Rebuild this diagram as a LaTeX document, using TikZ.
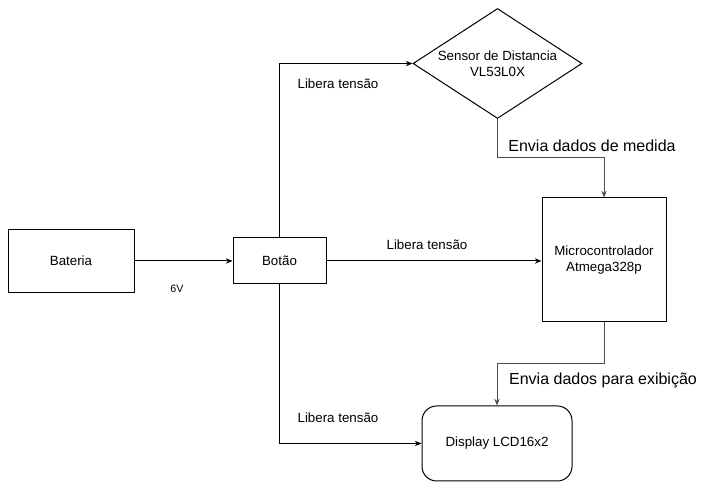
\documentclass[tikz,border=0pt]{standalone}
\usepackage{fontspec}
\setmainfont{Liberation Sans}
\usetikzlibrary{shapes.geometric,arrows.meta}
\begin{document}
\begin{tikzpicture}[x=0.75pt,y=-0.75pt,
  box/.style={draw=black,line width=0.75pt,rectangle,inner sep=0pt,font=\fontsize{10}{12}\selectfont,align=center},
  arr/.style={draw=black,line width=0.75pt,-{Stealth[length=5pt,width=4pt]}},
  arrg/.style={draw=black!70,line width=0.75pt,-{Stealth[length=5pt,width=4pt]}},
  lbl/.style={inner sep=0pt,font=\fontsize{10}{12}\selectfont},
  biglbl/.style={inner sep=0pt,font=\fontsize{12}{14}\selectfont}]
\useasboundingbox[fill=white] (0,0) rectangle (707,498);
% nodes
\node[box,minimum width=94.5pt,minimum height=47.25pt] (bat) at (71,261) {Bateria};
\node[box,minimum width=69.75pt,minimum height=34.5pt] (bot) at (279.5,261) {Botão};
\node[diamond,draw=black,line width=0.75pt,inner sep=0pt,minimum width=126.75pt,minimum height=82.5pt,
  label={[align=center,font=\fontsize{10}{12}\selectfont]center:Sensor de Distancia\\VL53L0X}] (sens) at (497.5,63.5) {};
\node[box,minimum width=93pt,minimum height=93pt] (mic) at (604,260) {Microcontrolador\\Atmega328p};
\node[box,rounded corners=11pt,minimum width=112.5pt,minimum height=56.25pt] (disp) at (497,443.5) {Display LCD16x2};
% bend points
\coordinate (k1) at (604,158);
\coordinate (k2) at (497,364);
% connectors
\draw[arr] (bat.east) -- (bot.west);
\draw[arr] (bot.north) |- (sens.west);
\draw[arrg] (sens.south) |- (k1) -- (mic.north);
\draw[arr] (bot.east) -- (mic.west |- bot.east);
\draw[arrg] (mic.south) |- (k2) -- (disp.north);
\draw[arr] (bot.south) |- (disp.west);
% labels
\node[lbl,font=\fontsize{8}{10}\selectfont] (l6v) at (177,289) {6V};
\node[lbl] (lt1) at (338,84) {Libera tensão};
\node[lbl] (lt2) at (427,245) {Libera tensão};
\node[lbl] (lt3) at (338,418) {Libera tensão};
\node[biglbl] (le1) at (592,146) {Envia dados de medida};
\node[biglbl] (le2) at (603,380) {Envia dados para exibição};
\end{tikzpicture}
\end{document}
